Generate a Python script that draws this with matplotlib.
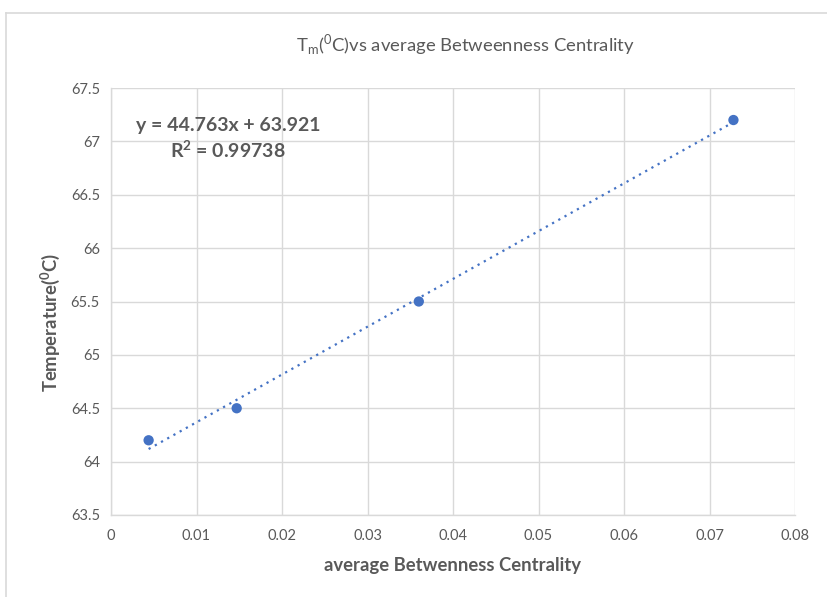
import matplotlib
matplotlib.use("Agg")
import matplotlib.pyplot as plt
from matplotlib.lines import Line2D
import numpy as np

plt.rcParams['font.family'] = ['Lato', 'DejaVu Sans']
plt.rcParams['mathtext.fontset'] = 'custom'
plt.rcParams['mathtext.rm'] = 'Lato'
plt.rcParams['mathtext.bf'] = 'Lato:bold'

betweenness = [0.0044, 0.0147, 0.0360, 0.0728]
temperature = [64.2, 64.5, 65.5, 67.2]
slope = 44.763
intercept = 63.921
r2 = 0.99738
xticks = [0, 0.01, 0.02, 0.03, 0.04, 0.05, 0.06, 0.07, 0.08]
xticklabels = ['0', '0.01', '0.02', '0.03', '0.04', '0.05', '0.06', '0.07', '0.08']
yticks = [63.5, 64, 64.5, 65, 65.5, 66, 66.5, 67, 67.5]
yticklabels = ['63.5', '64', '64.5', '65', '65.5', '66', '66.5', '67', '67.5']

W, H = 827, 597
fig = plt.figure(figsize=(W/100, H/100), dpi=100)
ax = fig.add_axes([111/W, 1-515/H, (795-111)/W, (515-88)/H])

grey = '#595959'
gridc = '#d9d9d9'
blue = '#4472c4'

ax.scatter(betweenness, temperature, s=55, color=blue, zorder=3, edgecolors='none')
xl = np.array([min(betweenness), max(betweenness)])
ax.plot(xl, slope*xl + intercept, linestyle=(0, (1, 2.2)), color=blue, lw=1.6, zorder=2)

ax.set_xlim(0, 0.08)
ax.set_ylim(63.5, 67.5)
ax.set_xticks(xticks)
ax.set_xticklabels(xticklabels)
ax.set_yticks(yticks)
ax.set_yticklabels(yticklabels)
ax.grid(True, color=gridc, lw=1.0)
ax.set_axisbelow(True)
for s in ['top', 'right']:
    ax.spines[s].set_visible(False)
ax.spines['left'].set_color(gridc)
ax.spines['bottom'].set_color(gridc)
ax.spines['left'].set_linewidth(1.0)
ax.spines['bottom'].set_linewidth(1.0)
ax.tick_params(length=0, labelsize=10.5, colors=grey, pad=10)
ax.tick_params(axis='y', pad=8)

ax.set_xlabel('average Betwenness Centrality', fontsize=13.3, fontweight='bold', color=grey)
ax.xaxis.set_label_coords((452-111)/684, -(557-515)/427)
ax.set_ylabel('Temperature($^{\\mathbf{0}}$C)', fontsize=13.3, fontweight='bold', color=grey)
ax.yaxis.set_label_coords(-(111-62)/684, (515-322)/427)

fig.text(465/W, 1-45/H, 'T$_{\\mathrm{m}}$($^{\\mathrm{0}}$C)vs average Betweenness Centrality',
         ha='center', va='center', fontsize=13.3, color=grey)

ax.text(0.01368, 67.15, f'y = {slope}x + {intercept}', ha='center', va='center',
        fontsize=14, fontweight='bold', color=grey)
ax.text(0.01368, 66.92, f'R$^{{\\mathbf{{2}}}}$ = {r2}', ha='center', va='center',
        fontsize=14, fontweight='bold', color=grey)

bc = '#d9d9d9'
fig.add_artist(Line2D([6/W, 1], [1-13/H, 1-13/H], transform=fig.transFigure, color=bc, lw=1.2))
fig.add_artist(Line2D([6/W, 6/W], [1-13/H, 0], transform=fig.transFigure, color=bc, lw=1.2))

fig.savefig('out.png', dpi=100)
